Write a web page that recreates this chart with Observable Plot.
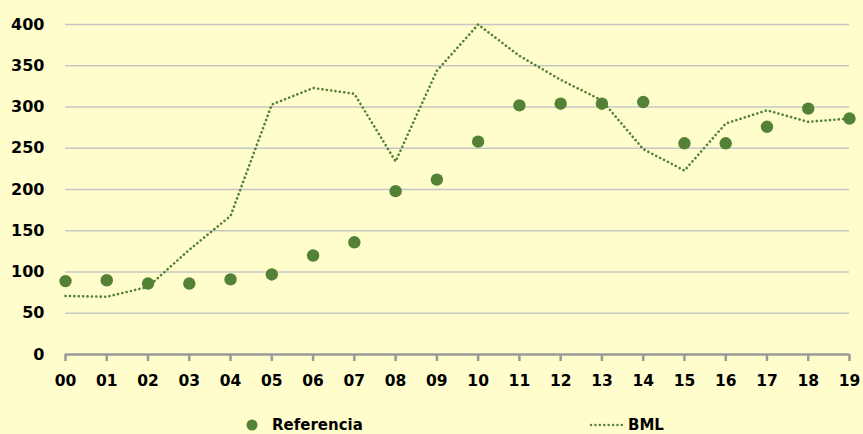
<!DOCTYPE html>
<html>
<head>
<meta charset="utf-8">
<script src="https://cdn.jsdelivr.net/npm/d3@7"></script>
<script src="https://cdn.jsdelivr.net/npm/@observablehq/plot@0.6"></script>
<style>
  html, body { margin: 0; padding: 0; background: #FFFDCC; }
  #chart { width: 863px; height: 434px; position: relative; background: #FFFDCC; font-family: "DejaVu Sans", sans-serif; }
  #legend { position: relative; height: 29px; font-weight: bold; font-size: 15px; color: #000; }
  .item { position: absolute; top: 11px; display: flex; align-items: center; }
</style>
</head>
<body>
<div id="chart"></div>
<script>
const years = ["00","01","02","03","04","05","06","07","08","09","10","11","12","13","14","15","16","17","18","19"];
const referencia = [89, 90, 86, 86, 91, 97, 120, 136, 198, 212, 258, 302, 304, 304, 306, 256, 256, 276, 298, 286];
const bml = [71, 70, 82, 127, 168, 303, 323, 316, 234, 344, 400, 362, 333, 308, 249, 223, 280, 296, 282, 286];
const yTicks = [0, 50, 100, 150, 200, 250, 300, 350, 400];
const gridTicks = [50, 100, 150, 200, 250, 300, 350, 400];

const green = "#538135";
const refData = years.map((y, i) => ({year: y, value: referencia[i]}));
const bmlData = years.map((y, i) => ({year: y, value: bml[i]}));

const plot = Plot.plot({
  width: 863,
  height: 405,
  marginTop: 24,
  marginBottom: 51,
  marginLeft: 65,
  marginRight: 14,
  style: {background: "#FFFDCC", fontFamily: "DejaVu Sans, sans-serif"},
  x: {type: "point", domain: years, padding: 0, round: false},
  y: {domain: [0, 400]},
  marks: [
    Plot.ruleY(gridTicks, {stroke: "#c6c6c6", strokeWidth: 1.3}),
    Plot.axisY(yTicks, {tickSize: 0, tickPadding: 21, fontSize: 16, fontWeight: "bold", fill: "#000", label: null}),
    Plot.axisX(years, {tickSize: 7, tickPadding: 13, stroke: "#9a9a9a", strokeWidth: 2.5, fontSize: 15.5, fontWeight: "bold", fill: "#000", label: null}),
    Plot.ruleY([0], {stroke: "#9a9a9a", strokeWidth: 2.5}),
    Plot.line(bmlData, {x: "year", y: "value", curve: "linear", stroke: green, strokeWidth: 2.6, strokeLinecap: "round", strokeDasharray: "0.1 4.3"}),
    Plot.dot(refData, {x: "year", y: "value", r: 6.2, fill: green, stroke: "none"})
  ]
});

const chart = document.getElementById("chart");
chart.appendChild(plot);

const legend = document.createElement("div");
legend.id = "legend";
legend.innerHTML = `
  <div class="item" style="left:246px;">
    <svg width="12" height="12" style="margin-right:14px"><circle cx="6" cy="6" r="5.5" fill="${green}"/></svg>
    <span>Referencia</span>
  </div>
  <div class="item" style="left:589px;">
    <svg width="34" height="6" style="margin-right:5px"><line x1="2" y1="3" x2="33" y2="3" stroke="${green}" stroke-width="2.4" stroke-linecap="round" stroke-dasharray="0.1 4.3"/></svg>
    <span>BML</span>
  </div>`;
chart.appendChild(legend);
</script>
</body>
</html>
